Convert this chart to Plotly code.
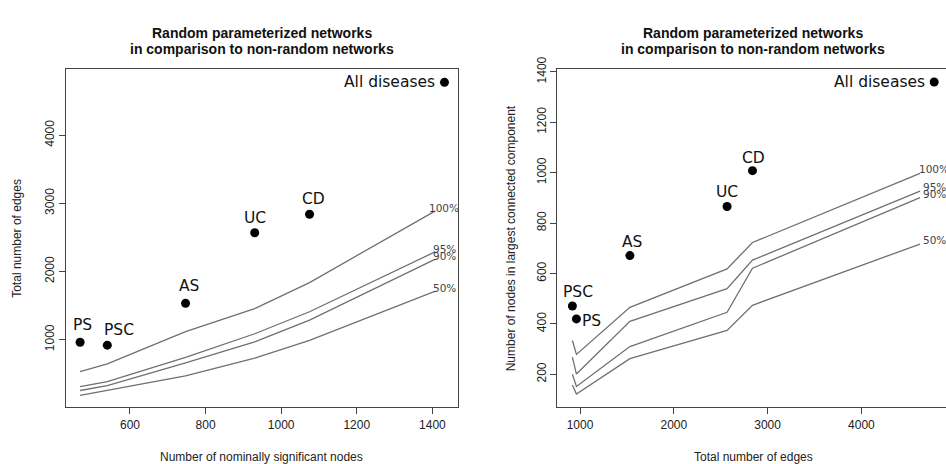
import plotly.graph_objects as go

# ---------------- data ----------------
diseases = ["PS", "PSC", "AS", "UC", "CD", "All diseases"]
sig_nodes = [468, 540, 747, 930, 1075, 1432]          # number of nominally significant nodes
total_edges = [962, 919, 1532, 2568, 2839, 4776]      # total number of edges
lcc_nodes = [420, 471, 671, 866, 1008, 1360]          # nodes in largest connected component

pct_labels = ["100%", "95%", "90%", "50%"]

# random networks, left panel (x = significant nodes, y = edges)
rand_nodes_x = [468, 540, 747, 930, 1075, 1408]
rand_edges_100 = [529, 643, 1118, 1456, 1837, 2890]
rand_edges_95 = [311, 382, 739, 1086, 1409, 2290]
rand_edges_90 = [253, 325, 658, 967, 1285, 2180]
rand_edges_50 = [183, 254, 468, 729, 990, 1710]

# random networks, right panel (x = edges, y = LCC nodes)
rand_edges_x = [919, 962, 1532, 2568, 2839, 4625]
rand_lcc_100 = [334, 279, 466, 618, 723, 997]
rand_lcc_95 = [268, 201, 410, 540, 653, 927]
rand_lcc_90 = [200, 152, 310, 446, 621, 901]
rand_lcc_50 = [158, 122, 262, 374, 474, 717]

left_ticks_x = [600, 800, 1000, 1200, 1400]
left_ticks_y = [1000, 2000, 3000, 4000]
right_ticks_x = [1000, 2000, 3000, 4000]
right_ticks_y = [200, 400, 600, 800, 1000, 1200, 1400]

title_line1 = "Random parameterized networks"
title_line2 = "in comparison to non-random networks"

# ---------------- figure ----------------
W, H = 946, 464
fig = go.Figure()
line_style = dict(color="#707070", width=1.3)

for ys in [rand_edges_100, rand_edges_95, rand_edges_90, rand_edges_50]:
    fig.add_trace(go.Scatter(x=rand_nodes_x, y=ys, mode="lines", line=line_style,
                             xaxis="x", yaxis="y", showlegend=False, hoverinfo="skip"))
for ys in [rand_lcc_100, rand_lcc_95, rand_lcc_90, rand_lcc_50]:
    fig.add_trace(go.Scatter(x=rand_edges_x, y=ys, mode="lines", line=line_style,
                             xaxis="x2", yaxis="y2", showlegend=False, hoverinfo="skip"))

fig.add_trace(go.Scatter(x=sig_nodes, y=total_edges, mode="markers",
                         marker=dict(color="black", size=9), xaxis="x", yaxis="y",
                         showlegend=False, hoverinfo="skip"))
fig.add_trace(go.Scatter(x=total_edges, y=lcc_nodes, mode="markers",
                         marker=dict(color="black", size=9), xaxis="x2", yaxis="y2",
                         showlegend=False, hoverinfo="skip"))

ann = []
lab_font = dict(family="DejaVu Sans", size=15.5, color="#111")
# label placement (xanchor, xshift, yshift) per disease
left_place = {"PS": ("center", 2, 17), "PSC": ("center", 12, 15), "AS": ("center", 3, 17),
              "UC": ("center", 0, 15), "CD": ("center", 4, 15), "All diseases": ("right", -7, 0)}
right_place = {"PS": ("left", 4, -2), "PSC": ("center", 6, 14), "AS": ("center", 2, 14),
               "UC": ("center", 0, 14), "CD": ("center", 1, 13), "All diseases": ("right", -7, 0)}
for d, x, y in zip(diseases, sig_nodes, total_edges):
    xa, xs, ys = left_place[d]
    ann.append(dict(x=x, y=y, xref="x", yref="y", text=d, showarrow=False, font=lab_font,
                    xanchor=xa, yanchor="middle", xshift=xs, yshift=ys))
for d, x, y in zip(diseases, total_edges, lcc_nodes):
    xa, xs, ys = right_place[d]
    ann.append(dict(x=x, y=y, xref="x2", yref="y2", text=d, showarrow=False, font=lab_font,
                    xanchor=xa, yanchor="middle", xshift=xs, yshift=ys))

pct_font = dict(family="DejaVu Sans", size=10.5, color="#444")
for lab, ys in zip(pct_labels, [rand_edges_100, rand_edges_95, rand_edges_90, rand_edges_50]):
    ann.append(dict(x=sig_nodes[-1], y=ys[-1], xref="x", yref="y", text=lab, showarrow=False,
                    font=pct_font, xanchor="center", yanchor="middle", yshift=3))
for lab, ys in zip(pct_labels, [rand_lcc_100, rand_lcc_95, rand_lcc_90, rand_lcc_50]):
    ann.append(dict(x=total_edges[-1], y=ys[-1], xref="x2", yref="y2", text=lab, showarrow=False,
                    font=pct_font, xanchor="center", yanchor="middle", yshift=4))

title_font = dict(family="Liberation Sans", size=14, color="#111")
for cx in [261.8, 753.0]:
    ann.append(dict(x=cx / W, y=1 - 20.7 / H, xref="paper", yref="paper", text="<b>%s</b>" % title_line1,
                    showarrow=False, font=title_font, xanchor="center", yanchor="middle"))
    ann.append(dict(x=cx / W, y=1 - 37.3 / H, xref="paper", yref="paper", text="<b>%s</b>" % title_line2,
                    showarrow=False, font=title_font, xanchor="center", yanchor="middle"))

axt_font = dict(family="Liberation Sans", size=12, color="#222")
ann.append(dict(x=261.8 / W, y=1 - 456.7 / H, xref="paper", yref="paper",
                text="Number of nominally significant nodes", showarrow=False, font=axt_font,
                xanchor="center", yanchor="middle"))
ann.append(dict(x=753.3 / W, y=1 - 456.7 / H, xref="paper", yref="paper",
                text="Total number of edges", showarrow=False, font=axt_font,
                xanchor="center", yanchor="middle"))
ann.append(dict(x=17.5 / W, y=1 - 231.8 / H, xref="paper", yref="paper",
                text="Total number of edges", showarrow=False, font=axt_font, textangle=-90,
                xanchor="center", yanchor="middle"))
ann.append(dict(x=510.8 / W, y=1 - 232.0 / H, xref="paper", yref="paper",
                text="Number of nodes in largest connected component", showarrow=False, font=axt_font,
                textangle=-90, xanchor="center", yanchor="middle"))

tick_font = dict(family="Liberation Sans", size=12, color="#222")
frame = "#444"
common = dict(showgrid=False, zeroline=False, showline=True, linecolor=frame, linewidth=1,
              ticks="outside", ticklen=6, tickcolor=frame, tickwidth=1, tickfont=tick_font,
              fixedrange=True)

y_dom = [(H - 405.7) / H, (H - 58.0) / H]
fig.update_layout(
    width=W, height=H, margin=dict(l=0, r=0, t=0, b=0),
    paper_bgcolor="white", plot_bgcolor="white",
    xaxis=dict(domain=[66 / W, 457.7 / W], range=[430.7, 1467], tickvals=left_ticks_x,
               mirror=True, anchor="y", **common),
    yaxis=dict(domain=y_dom, range=[6, 4966], tickvals=left_ticks_y, tickangle=-90,
               mirror=True, anchor="x", **common),
    xaxis2=dict(domain=[557.3 / W, 1.0], range=[758, 4902], tickvals=right_ticks_x,
                mirror=True, anchor="y2", **common),
    yaxis2=dict(domain=y_dom, range=[69, 1410], tickvals=right_ticks_y, tickangle=-90,
                mirror=False, anchor="x2", **common),
    annotations=ann,
    showlegend=False,
)

fig.write_html("out.html")
